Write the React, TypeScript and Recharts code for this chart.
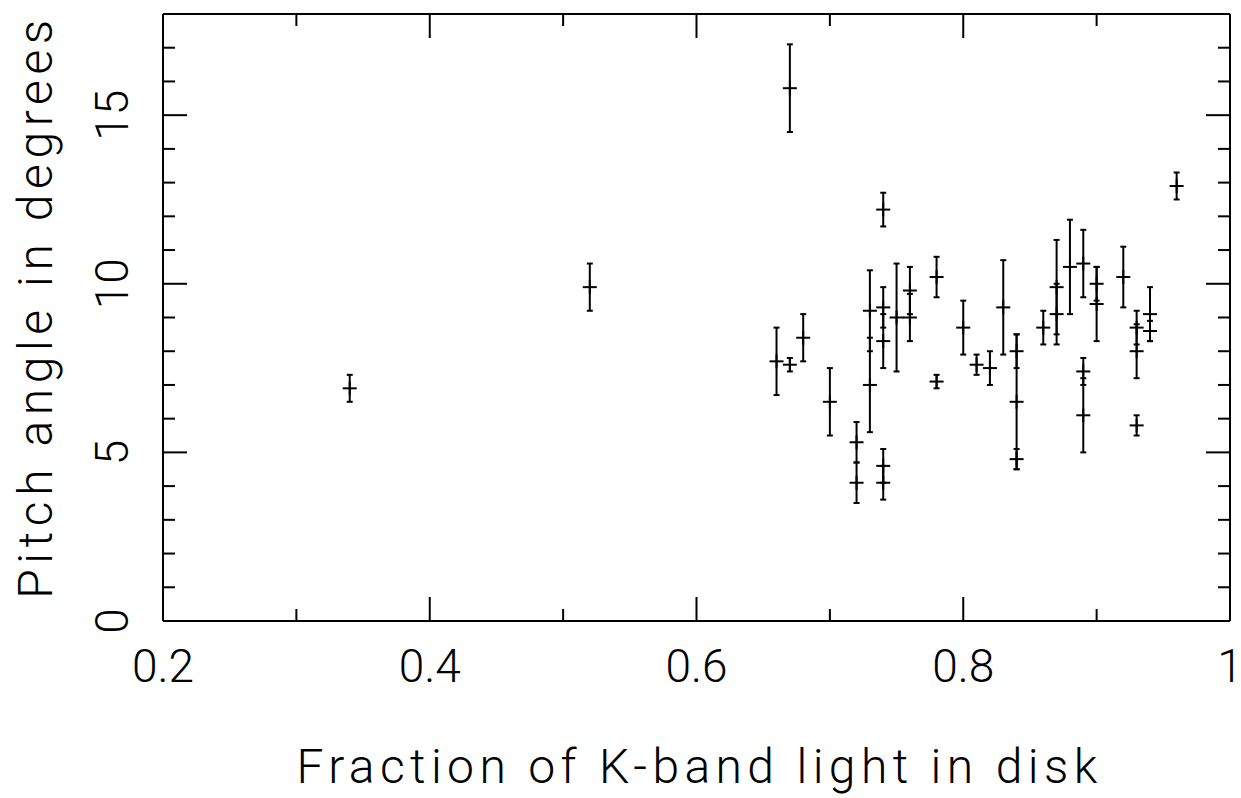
import { ScatterChart, Scatter, XAxis, YAxis, ErrorBar } from "recharts";

const fraction = [0.34, 0.52, 0.66, 0.67, 0.67, 0.68, 0.70, 0.72, 0.72, 0.73, 0.73, 0.74, 0.74, 0.74, 0.74, 0.74, 0.75, 0.76, 0.76, 0.78, 0.78, 0.80, 0.81, 0.82, 0.83, 0.84, 0.84, 0.84, 0.86, 0.87, 0.87, 0.88, 0.89, 0.89, 0.89, 0.90, 0.90, 0.92, 0.93, 0.93, 0.93, 0.94, 0.94, 0.96];
const pitch = [6.9, 9.9, 7.7, 7.6, 15.8, 8.4, 6.5, 5.3, 4.1, 9.2, 7.0, 12.2, 9.3, 8.3, 4.6, 4.1, 9.0, 9.8, 9.0, 10.2, 7.1, 8.7, 7.6, 7.5, 9.3, 8.0, 6.5, 4.8, 8.7, 9.9, 9.1, 10.5, 10.6, 7.4, 6.1, 10.0, 9.4, 10.2, 8.7, 8.0, 5.8, 9.1, 8.6, 12.9];
const pitchErr = [0.4, 0.7, 1.0, 0.2, 1.3, 0.7, 1.0, 0.6, 0.6, 1.2, 1.4, 0.5, 0.6, 0.8, 0.5, 0.5, 1.6, 0.7, 0.7, 0.6, 0.2, 0.8, 0.3, 0.5, 1.4, 0.5, 2.0, 0.3, 0.5, 1.4, 0.9, 1.4, 1.0, 0.4, 1.1, 0.5, 1.1, 0.9, 0.5, 0.8, 0.3, 0.8, 0.3, 0.4];

const xTicks = [0.2, 0.3, 0.4, 0.5, 0.6, 0.7, 0.8, 0.9, 1];
const xMajor = [0.2, 0.4, 0.6, 0.8, 1];
const xLabels = ["0.2", "0.4", "0.6", "0.8", "1"];
const yTicks = [0, 1, 2, 3, 4, 5, 6, 7, 8, 9, 10, 11, 12, 13, 14, 15, 16, 17];
const yMajor = [0, 5, 10, 15];
const yLabels = ["0", "5", "10", "15"];

const data = fraction.map((f, i) => ({ f, p: pitch[i], err: pitchErr[i] }));

const FONT = "Roboto, 'Liberation Sans', sans-serif";
const MAJOR = 24;
const MINOR = 12;

const majorIdx = (arr: number[], v: number) => arr.findIndex(m => Math.abs(m - v) < 1e-6);

function BottomTick({ x, y, payload }: any) {
  const i = majorIdx(xMajor, payload.value);
  return (
    <g>
      <line x1={x} x2={x} y1={y} y2={y - (i >= 0 ? MAJOR : MINOR)} stroke="#000" strokeWidth={2} />
      {i >= 0 && (
        <text x={x} y={y + 61} textAnchor="middle" fontFamily={FONT} fontWeight={300} fontSize={46} fill="#000">
          {xLabels[i]}
        </text>
      )}
    </g>
  );
}

function TopTick({ x, y, payload }: any) {
  const i = majorIdx(xMajor, payload.value);
  return <line x1={x} x2={x} y1={y} y2={y + (i >= 0 ? MAJOR : MINOR)} stroke="#000" strokeWidth={2} />;
}

function LeftTick({ x, y, payload }: any) {
  const i = majorIdx(yMajor, payload.value);
  const lx = x - 35;
  return (
    <g>
      <line x1={x} x2={x + (i >= 0 ? MAJOR : MINOR)} y1={y} y2={y} stroke="#000" strokeWidth={2} />
      {i >= 0 && (
        <text x={lx} y={y} transform={`rotate(-90, ${lx}, ${y})`} textAnchor="middle" fontFamily={FONT} fontWeight={300} fontSize={46} fill="#000">
          {yLabels[i]}
        </text>
      )}
    </g>
  );
}

function RightTick({ x, y, payload }: any) {
  const i = majorIdx(yMajor, payload.value);
  return <line x1={x} x2={x - (i >= 0 ? MAJOR : MINOR)} y1={y} y2={y} stroke="#000" strokeWidth={2} />;
}

function XTitle({ viewBox }: any) {
  return (
    <text x={viewBox.x + viewBox.width / 2 + 3} y={viewBox.y + 162} textAnchor="middle" fontFamily={FONT} fontWeight={300} fontSize={48} letterSpacing={5.4} fill="#000">
      Fraction of K-band light in disk
    </text>
  );
}

function YTitle({ viewBox }: any) {
  const x = viewBox.x - 11;
  const y = viewBox.y + viewBox.height / 2 - 11;
  return (
    <text x={x} y={y} transform={`rotate(-90, ${x}, ${y})`} textAnchor="middle" fontFamily={FONT} fontWeight={300} fontSize={48} letterSpacing={5.6} fill="#000">
      Pitch angle in degrees
    </text>
  );
}

function Plus({ cx, cy }: any) {
  return (
    <g stroke="#000" strokeWidth={2}>
      <line x1={cx - 7} x2={cx + 7} y1={cy} y2={cy} />
      <line x1={cx} x2={cx} y1={cy - 7} y2={cy + 7} />
    </g>
  );
}

const Nothing = () => <g />;

export default function App() {
  const axisLine = { stroke: "#000", strokeWidth: 2 };
  return (
    <div style={{ position: "absolute", left: 0, top: 0, width: 1241, height: 798, background: "#fff" }}>
      <ScatterChart width={1241} height={798} margin={{ top: 13, right: 10, bottom: 27, left: 63 }}>
        <XAxis dataKey="f" type="number" domain={[0.2, 1]} ticks={xTicks} interval={0} allowDataOverflow
          height={150} tickLine={false} tickSize={0} tickMargin={0} axisLine={axisLine} tick={<BottomTick />} label={<XTitle />} />
        <XAxis xAxisId="top" dataKey="f" orientation="top" type="number" domain={[0.2, 1]} ticks={xTicks} interval={0} allowDataOverflow
          height={1} tickLine={false} tickSize={0} tickMargin={0} axisLine={axisLine} tick={<TopTick />} />
        <YAxis dataKey="p" type="number" domain={[0, 18]} ticks={yTicks} interval={0} allowDataOverflow
          width={100} tickLine={false} tickSize={0} tickMargin={0} axisLine={axisLine} tick={<LeftTick />} label={<YTitle />} />
        <YAxis yAxisId="right" dataKey="p" orientation="right" type="number" domain={[0, 18]} ticks={yTicks} interval={0} allowDataOverflow
          width={1} tickLine={false} tickSize={0} tickMargin={0} axisLine={axisLine} tick={<RightTick />} />
        <Scatter data={data} xAxisId="top" yAxisId="right" shape={<Nothing />} legendType="none" isAnimationActive={false} />
        <Scatter data={data} shape={<Plus />} isAnimationActive={false}>
          <ErrorBar dataKey="err" direction="y" width={3} stroke="#000" strokeWidth={2} isAnimationActive={false} />
        </Scatter>
      </ScatterChart>
    </div>
  );
}
